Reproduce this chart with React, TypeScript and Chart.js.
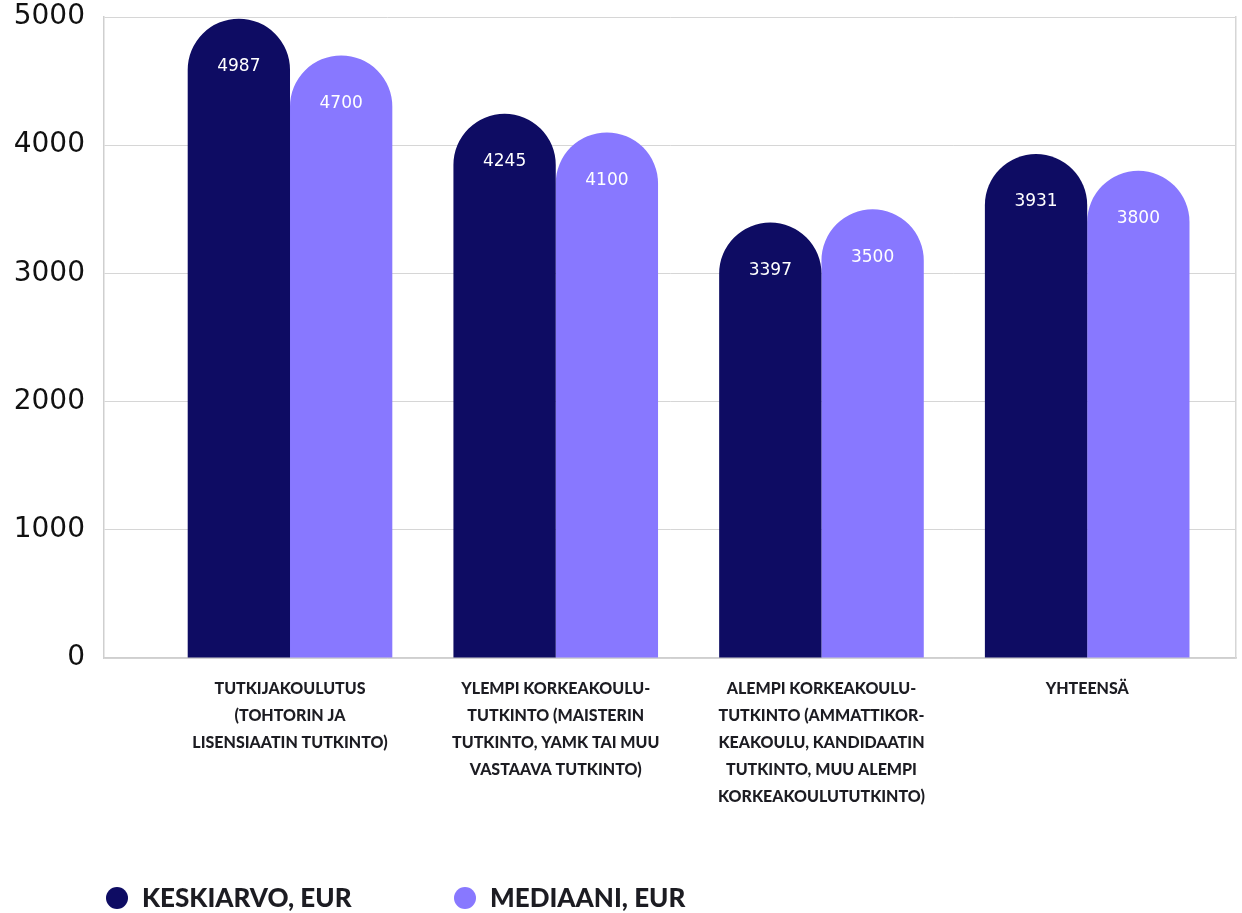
import React, { useEffect, useRef } from "react";
import { Chart, registerables } from "chart.js";

Chart.register(...registerables);

const categories: string[][] = [
  ["TUTKIJAKOULUTUS", "(TOHTORIN JA", "LISENSIAATIN TUTKINTO)"],
  ["YLEMPI KORKEAKOULU-", "TUTKINTO (MAISTERIN", "TUTKINTO, YAMK TAI MUU", "VASTAAVA TUTKINTO)"],
  ["ALEMPI KORKEAKOULU-", "TUTKINTO (AMMATTIKOR-", "KEAKOULU, KANDIDAATIN", "TUTKINTO, MUU ALEMPI", "KORKEAKOULUTUTKINTO)"],
  ["YHTEENSÄ"],
];
const seriesNames = ["KESKIARVO, EUR", "MEDIAANI, EUR"];
const keskiarvo = [4987, 4245, 3397, 3931];
const mediaani = [4700, 4100, 3500, 3800];
const yTicks = [0, 1000, 2000, 3000, 4000, 5000];

const COLORS = ["#0e0c63", "#8878ff"];

const valueLabels = {
  id: "valueLabels",
  afterDatasetsDraw(chart: any) {
    const ctx = chart.ctx;
    ctx.save();
    ctx.fillStyle = "#ffffff";
    ctx.font = "17px 'DejaVu Sans'";
    ctx.textAlign = "center";
    ctx.textBaseline = "middle";
    chart.data.datasets.forEach((ds: any, di: number) => {
      const meta = chart.getDatasetMeta(di);
      meta.data.forEach((el: any, i: number) => {
        ctx.fillText(String(ds.data[i].y), el.x, el.y + 48);
      });
    });
    ctx.restore();
  },
};

const customLegend = {
  id: "customLegend",
  afterDraw(chart: any) {
    const ctx = chart.ctx;
    const positions = [106, 454];
    const cy = 898;
    ctx.save();
    chart.data.datasets.forEach((ds: any, di: number) => {
      const x = positions[di];
      ctx.fillStyle = ds.backgroundColor;
      ctx.beginPath();
      ctx.arc(x + 11, cy, 11, 0, Math.PI * 2);
      ctx.fill();
      ctx.fillStyle = "#1c1c22";
      ctx.font = "900 26px Lato";
      ctx.textAlign = "left";
      ctx.textBaseline = "middle";
      ctx.fillText(ds.label, x + 36, cy + 1);
    });
    ctx.restore();
  },
};

export default function App() {
  const ref = useRef<HTMLCanvasElement | null>(null);
  useEffect(() => {
    document.body.style.margin = "0";
    if (!ref.current) return;
    const chart = new Chart(ref.current, {
      type: "bar",
      data: {
        datasets: [
          {
            label: seriesNames[0],
            data: keskiarvo.map((v, i) => ({ x: i, y: v })),
            backgroundColor: COLORS[0],
            borderRadius: 60,
            borderSkipped: "bottom",
          },
          {
            label: seriesNames[1],
            data: mediaani.map((v, i) => ({ x: i, y: v })),
            backgroundColor: COLORS[1],
            borderRadius: 60,
            borderSkipped: "bottom",
          },
        ],
      } as any,
      options: {
        animation: false,
        responsive: false,
        maintainAspectRatio: false,
        layout: { padding: { top: 17, left: 0, right: 0, bottom: 0 } },
        datasets: { bar: { categoryPercentage: 0.77, barPercentage: 1 } } as any,
        plugins: {
          legend: { display: false },
          tooltip: { enabled: false },
        },
        scales: {
          x: {
            type: "linear",
            min: -0.7,
            max: 3.56,
            offset: false,
            grid: { display: false },
            border: { display: true, color: "#cfcfcf", width: 1.5 },
            afterBuildTicks: (scale: any) => {
              scale.ticks = categories.map((_, i) => ({ value: i }));
            },
            afterFit: (scale: any) => {
              scale.height = 913 - 658;
            },
            ticks: {
              autoSkip: false,
              maxRotation: 0,
              padding: 9,
              color: "#1c1c22",
              font: { family: "Lato", weight: "900", size: 16, lineHeight: 1.69 },
              callback: (v: any) => categories[Number(v)] ?? "",
            },
          },
          y: {
            min: 0,
            max: 5000,
            afterBuildTicks: (scale: any) => {
              scale.ticks = yTicks.map((v) => ({ value: v }));
            },
            afterFit: (scale: any) => {
              scale.width = 104;
              scale.paddingTop = 0;
              scale.paddingBottom = 0;
            },
            grid: { color: "#d6d6d6", drawTicks: false, lineWidth: 1 },
            border: { display: true, color: "#cfcfcf", width: 1.5 },
            ticks: {
              padding: 19,
              color: "#111111",
              font: { family: "DejaVu Sans", size: 28 },
              callback: (v: any) => String(v),
            },
          },
          y2: {
            position: "right",
            min: 0,
            max: 5000,
            grid: { display: false },
            border: { display: true, color: "#d6d6d6", width: 1.5 },
            ticks: { display: false },
            afterFit: (scale: any) => {
              scale.width = 6;
              scale.paddingTop = 0;
              scale.paddingBottom = 0;
            },
          },
        },
      } as any,
      plugins: [valueLabels, customLegend],
    });
    return () => chart.destroy();
  }, []);
  return (
    <div style={{ width: 1242, height: 913 }}>
      <canvas ref={ref} width={1242} height={913} style={{ display: "block" }} />
    </div>
  );
}
